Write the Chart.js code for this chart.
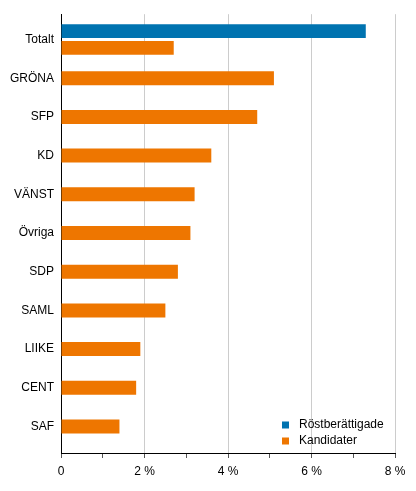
<!DOCTYPE html>
<html>
<head>
<meta charset="utf-8">
<script src="https://cdn.jsdelivr.net/npm/chart.js@4"></script>
<style>
  body { margin: 0; background: #fff; }
  #wrap { width: 416px; height: 491px; position: relative; }
</style>
</head>
<body>
<div id="wrap"><canvas id="myChart"></canvas></div>
<script>
var categories = ['Totalt', 'GRÖNA', 'SFP', 'KD', 'VÄNST', 'Övriga', 'SDP', 'SAML', 'LIIKE', 'CENT', 'SAF'];
var rostberattigade = [7.3, null, null, null, null, null, null, null, null, null, null];
var kandidater = [2.7, 5.1, 4.7, 3.6, 3.2, 3.1, 2.8, 2.5, 1.9, 1.8, 1.4];
var seriesNames = ['Röstberättigade', 'Kandidater'];
var xTicks = [0, 2, 4, 6, 8];

var blue = '#0073b0';
var orange = '#ee7600';

Chart.defaults.font.family = '"Liberation Sans", Arial, sans-serif';
Chart.defaults.font.size = 12;
Chart.defaults.color = '#000';

function toPoints(values) {
  return values.map(function(v, i) { return { x: v, y: i }; });
}

// legend drawn inside the plot, bottom right
var insideLegend = {
  id: 'insideLegend',
  afterDraw: function(chart) {
    var ctx = chart.ctx;
    var colors = [blue, orange];
    ctx.save();
    ctx.font = '12px "Liberation Sans", Arial, sans-serif';
    ctx.textBaseline = 'middle';
    seriesNames.forEach(function(name, i) {
      var y = 425 + i * 16;
      ctx.fillStyle = colors[i];
      ctx.fillRect(282, y - 3.5, 7, 7);
      ctx.fillStyle = '#000';
      ctx.fillText(name, 299, y);
    });
    ctx.restore();
  }
};

new Chart(document.getElementById('myChart'), {
  type: 'bar',
  data: {
    datasets: [{
      label: seriesNames[0],
      data: toPoints(rostberattigade),
      backgroundColor: blue,
      borderWidth: 0
    }, {
      label: seriesNames[1],
      data: toPoints(kandidater),
      backgroundColor: orange,
      borderWidth: 0
    }]
  },
  options: {
    indexAxis: 'y',
    responsive: true,
    maintainAspectRatio: false,
    animation: false,
    skipNull: true,
    categoryPercentage: 0.872,
    barPercentage: 0.82,
    maxBarThickness: 14,
    layout: { padding: { top: 11, right: 21, left: 0, bottom: 0 } },
    plugins: {
      legend: { display: false },
      tooltip: { enabled: false }
    },
    scales: {
      y: {
        type: 'linear',
        reverse: true,
        offset: false,
        min: -0.654,
        max: 10.685,
        afterFit: function(scale) { scale.width = 61; },
        grid: { display: false, drawTicks: false, offset: false },
        border: { display: true, color: '#000', width: 1 },
        ticks: {
          stepSize: 1,
          includeBounds: false,
          autoSkip: false,
          padding: 7,
          callback: function(value) {
            return categories[value] !== undefined ? categories[value] : '';
          }
        }
      },
      x: {
        type: 'linear',
        min: 0,
        max: 8,
        afterFit: function(scale) { scale.height = 38; },
        grid: {
          color: function(c) {
            return xTicks.indexOf(c.tick.value) >= 0 ? '#cccccc' : 'rgba(0,0,0,0)';
          },
          tickColor: '#555',
          tickLength: 5
        },
        border: { display: true, color: '#000', width: 1 },
        ticks: {
          stepSize: 1,
          autoSkip: false,
          maxRotation: 0,
          padding: 6,
          callback: function(value) {
            if (xTicks.indexOf(value) < 0) return '';
            return value === 0 ? '0' : value + ' %';
          }
        }
      }
    }
  },
  plugins: [insideLegend]
});
</script>
</body>
</html>
